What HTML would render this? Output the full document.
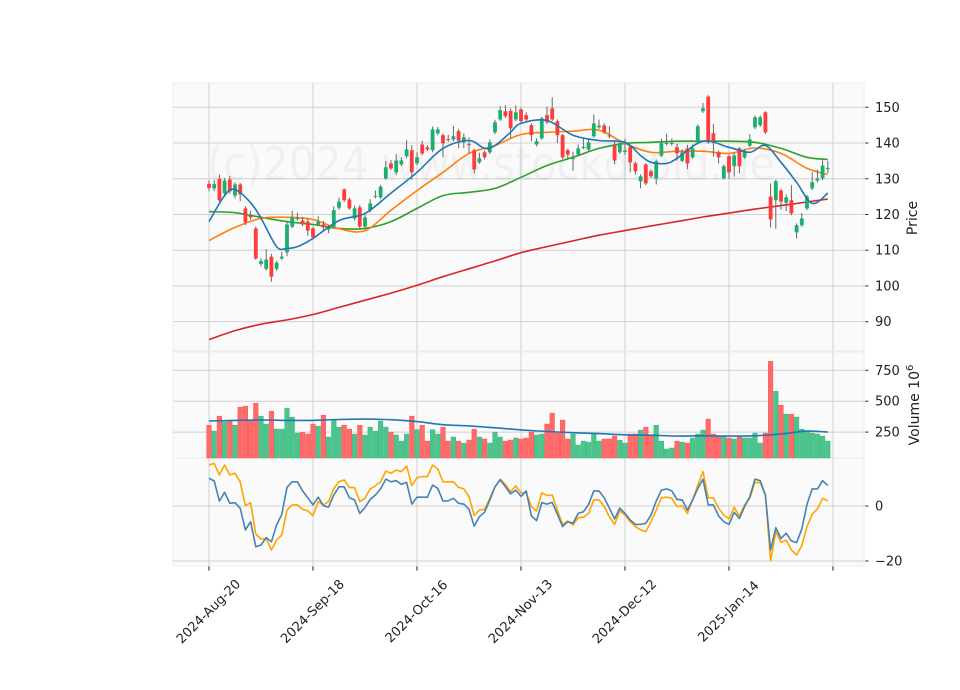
<!DOCTYPE html>
<html>
<head>
<meta charset="utf-8">
<style>
  html,body{margin:0;padding:0;background:#ffffff;}
  svg{display:block;font-family:"DejaVu Sans","Liberation Sans",sans-serif;}
</style>
</head>
<body>
<svg id="chart" width="960" height="690" viewBox="0 0 960 690" xmlns="http://www.w3.org/2000/svg">
  <g id="panels"></g>
  <text x="207" y="180" font-size="46" fill="#000" fill-opacity="0.04" textLength="568" lengthAdjust="spacingAndGlyphs">(c)2024 www.stockdroid.de</text>
  <g id="marks"></g>
  <g id="axes"></g>
  <text x="0" y="0" font-size="14" fill="#222" text-anchor="middle" transform="translate(917,218) rotate(-90)">Price</text>
  <text x="0" y="0" font-size="14" fill="#222" text-anchor="middle" transform="translate(919,405) rotate(-90)">Volume  10<tspan font-size="10" dy="-6">6</tspan></text>
</svg>
<script>
const xTickLabels = ["2024-Aug-20","2024-Sep-18","2024-Oct-16","2024-Nov-13","2024-Dec-12","2025-Jan-14",""];
const xTickIndex = [0,20,40,60,80,100,120];
const priceTicks = [90,100,110,120,130,140,150];
const volumeTicks = [250,500,750];
const oscTicks = [0,-20];

const openP = [128.6,127.3,130,125.9,129.8,125.3,128.4,121.7,119.6,116.1,106.2,104.8,108.2,104.8,107.7,109.4,116.6,118.7,118.3,118,116.1,117.2,117.2,115.8,116.6,121.9,127,124.2,118.9,122,116.6,121.2,125,124.8,130.1,134.3,131.8,134,136.3,138,134.3,139.6,138.8,138,142.7,142.2,141.1,141,143.3,140.2,139.7,138,134.6,137.4,137.4,143,146.6,148.9,149,146.6,149.4,147.8,145,139.6,141.3,147.8,149.7,146.1,142.2,138,135.6,136.8,138.7,138.2,141.9,144.4,144.9,142.1,139.3,137.4,137.5,139,134.3,129.3,134,132.1,130.1,136.5,139.8,139.8,138.8,135,138.5,136,140.2,148.9,153,142.7,137.4,130.1,136.3,133.5,138.5,136,139.3,144.4,145,148.6,125,124,126.7,123.3,124,115,117,121.7,127.3,129.5,130.1,132.8];
const closeP = [127.4,128.5,124,129.5,126.5,128.4,125.6,117.8,119.2,107.7,107,107.4,102.6,106.5,108.2,117.2,119.2,119,117.2,115.5,113.6,118,116.4,116.2,121.2,123.6,124,121.7,121.7,116.6,119.2,123.1,125.2,127.8,133.2,132.9,135.1,135.1,138.2,131.8,136,137.1,138.2,143.8,143.8,139.9,140.9,141.9,140.7,141.6,139.5,132.6,135.7,136,140.2,145.8,149.2,147.5,144.1,148.6,146.1,146.6,142.2,140.5,146.9,145.8,146.6,142.2,136,136.8,135.8,138.5,138.9,140.2,145.5,144.9,143,141.9,135.1,139.9,137.9,134.6,132.1,130.7,128.7,130.7,134.9,139.9,140,140,137.1,137.4,134.3,138.5,144.7,149.7,140.2,140.7,136,133.5,131.8,136.5,133.5,137.4,141,147.2,147.2,143,118.6,129.3,123.6,124.8,120.3,117,118.9,125,129,130.1,133.7,133];
const highP = [129.5,129.6,131.2,130.2,130.8,129,128.8,122.3,121,116.6,107.8,110.3,109,107,109.5,118,121,120.5,119.3,119,116.6,119.5,118.2,117,122.3,124.7,127.3,124.7,122.5,122.7,120,124.3,126.7,128.3,135,135.2,136.9,136,140.8,139.4,137.4,140.6,139.4,144.6,144.5,142.7,142.3,144.8,144,142.7,141.6,138.5,137.3,137.9,141,146.5,150.3,150.6,149.7,150.5,149.9,148.6,145.6,141.3,147.4,150.2,152.8,146.6,142.6,138.4,137.6,139.6,141.2,141,148,146.6,145.5,144.7,140.9,140.4,141.2,139.4,134.8,131.2,134.4,132.6,135.4,141.2,142.6,141.3,139.8,138.2,139.5,139.6,145.2,151.2,153.4,145.3,137.9,134,136.8,137.3,138.9,138.2,142.5,147.7,147.7,148.9,128.7,129.8,127.2,125.6,128.2,117.5,120.4,125.5,131.8,132.6,135.2,135];
const lowP = [126.5,126.5,123.5,125.3,125.8,124.5,123.8,117,118.5,107.3,105.5,104.3,101.2,104.2,107.2,108.3,116.2,118.3,116.7,114,113,116.8,115.7,114.8,116,121.3,123.5,121.3,118.3,115.8,115.8,120.6,124.5,124.3,129.7,132.5,131,133.5,135.7,129.7,133.8,136.6,137.7,137.4,142.2,136,140.3,140.5,138.5,138.6,137,131.5,134.2,135.4,136.9,142.5,146.2,147,141.3,146.1,145.5,146.2,140.5,139,140.9,145.3,146.2,140,135.5,135.5,132.2,136.3,138.3,137.8,141.5,144,142.5,141.3,134,137,136.7,131.8,131.2,127.3,128.2,130.2,128.4,136.1,139.3,139.3,135.1,134.6,132.7,135.6,139.8,148.4,139.8,136.2,134.3,129.8,130,130.6,131.5,135.6,138.8,143.9,144.5,142.5,116.4,116,121.3,121,119.8,113.3,116.5,121.2,126.8,129,129.6,131.6];
const volume = [306,258,379,331,339,306,452,460,347,484,379,315,419,274,274,444,371,242,248,234,315,298,387,210,355,290,306,274,234,306,226,290,258,339,290,250,226,177,234,379,270,306,177,270,234,290,177,210,177,161,185,274,210,194,161,250,210,177,185,202,194,202,250,226,234,315,403,242,347,194,234,145,177,169,242,177,194,194,218,185,161,234,234,266,290,226,306,177,113,121,177,169,161,202,234,266,355,234,218,210,202,194,210,202,202,242,161,242,822,580,468,395,395,371,274,258,242,234,218,177];

const maIdx = [0,5,10,15,20,25,30,35,40,45,50,55,60,65,70,75,80,85,90,95,100,105,110,115,119];
const maMid = [112.7,116.4,118.9,119.2,118.6,116,115.5,121.2,126.7,131.8,137.1,139.3,142.4,143,143.3,143.6,139.9,137.4,137.7,137.7,137.1,138.6,137.1,132.9,131.2];
const maSlow = [120.8,120.5,119.2,118,117.2,116.1,116.1,118,121.7,125.3,126.2,127.3,130.4,133.7,136,138.5,139.9,140.2,140.5,140.5,140.5,140.2,138.5,136,135.4];
const maLong = [85,87.5,89.3,90.5,92,94,96,98,100.2,102.6,104.8,107,109.3,111,112.6,114.2,115.5,116.8,118,119.3,120.4,121.5,122.5,123.5,124.3];
const volMa = [340,345,348,345,345,352,355,350,335,310,300,285,268,255,245,238,228,225,218,220,218,220,235,258,250];

const fastIdx = [0,3,5,8,10,13,15,17,20,25,30,35,40,45,50,53,55,58,60,65,70,75,80,83,85,88,90,95,100,104,107,110,113,116,119];
const maFast = [118,125.3,127,123.3,119,111,110.5,111,113.3,118.3,120.3,126,131.8,138.5,140.7,138.5,139.3,143,145.5,146.3,142.2,140.7,140.2,136.5,134.6,134.3,135.7,140.5,138.8,137.4,139.3,134.6,129,123.1,126];

const oscBlue = [10.1,9.1,1.8,5,1,1.2,-0.8,-8.7,-5.7,-14.8,-14.2,-11.5,-13,-6.9,-3,6.8,8.8,8.8,5.5,3,0.4,3.2,0.1,-0.4,4,7,7,3,2.2,-2.7,-0.6,2.4,4,6.2,9.8,8.8,9.2,7.9,8.6,0.7,3.2,3.2,3.2,7.6,6.4,1.8,1.9,2.8,1,0.7,-1.2,-7.3,-3.9,-2.3,2.2,7,9.5,7,4.4,5.8,3.5,5.5,-3.6,-5.3,1.2,0.7,1.3,-3,-7.5,-5.7,-6.3,-2.7,-2.1,0.6,5.5,5.5,3,-0.8,-4.7,-0.8,-2.7,-5.1,-6.7,-6.7,-6.3,-3.3,1.8,5.8,6.2,5.5,2.4,2.2,-1.5,2.2,6.4,9.7,0.4,0.4,-3.6,-5.7,-6.7,-2.3,-4.5,-0.2,3.4,9.8,9.2,4,-16,-7.9,-11.8,-9.9,-12.7,-13.3,-8.4,0.6,6.2,6.2,9.2,7.4];
const oscOrange = [14.9,15.5,11.3,14.9,11.3,11.9,8.8,0.1,1.2,-10.2,-12,-11.8,-16,-12.4,-10.5,-1.5,0.4,0.4,-1.2,-1.8,-3.5,1.6,0.4,1.6,6.4,8.8,9.5,6.7,6.7,1.6,2.8,6.2,7.3,8.8,12.7,11.9,13.1,12.5,14.5,7.4,10.3,10.7,10.7,14.9,13.5,8.8,8.8,8.8,6.8,6.2,3.4,-3.5,-1.5,-1.2,2.8,7,9.8,7.9,5.2,7.3,4.8,4.8,-0.2,-1.8,4.8,3.8,4,-1.5,-6.7,-5.5,-6.9,-4.2,-4.1,-2.7,2.2,2.2,-0.2,-3.9,-6.7,-1.7,-3.3,-5.7,-7.5,-8.7,-9.3,-5.7,-1.5,3,3.2,2.8,-0.2,0.1,-2.7,2.2,7.6,12.5,3,3,-0.8,-3.3,-4.7,-0.5,-3.6,0.4,2.8,8.6,8.5,4,-20,-9.3,-13.2,-12.4,-16,-17.8,-14.4,-7.5,-3,-1.1,2.8,1.9];

// ---- layout & scales ----
const NS = "http://www.w3.org/2000/svg";
const L = 173, R = 864;
const P1 = {top:83, bottom:351};
const P2 = {top:352, bottom:458};
const P3 = {top:458, bottom:566};
function xs(i){ return 209 + i*5.2; }
function yPrice(p){ return 107.3 + (150 - p)*3.573; }
function yVol(v){ return 463 - v*0.1236; }
function yOsc(o){ return 506 - o*2.75; }

function mk(tag, attrs, parent){
  const el = document.createElementNS(NS, tag);
  for (const k in attrs) el.setAttribute(k, attrs[k]);
  parent.appendChild(el);
  return el;
}
const gP = document.getElementById("panels");
const gM = document.getElementById("marks");
const gA = document.getElementById("axes");

[[P1,"price-panel"],[P2,"volume-panel"],[P3,"oscillator-panel"]].forEach(([p,name])=>{
  const r = mk("rect",{x:L,y:p.top,width:R-L,height:p.bottom-p.top,fill:"#fafafa",stroke:"#ececec","stroke-width":1},gP);
  
  
});
xTickIndex.forEach((ti)=>{
  const x = xs(ti);
  [P1,P2,P3].forEach(p=>{
    const g = mk("line",{x1:x,x2:x,y1:p.top,y2:p.bottom,stroke:"#d0d0d0","stroke-width":1},gP);
    
    
  });
});
function hgrid(y, label, name){
  const g = mk("line",{x1:L,x2:R,y1:y,y2:y,stroke:"#d0d0d0","stroke-width":1},gP);
  
  
  const t = mk("line",{x1:R+1,x2:R+4.5,y1:y,y2:y,stroke:"#333","stroke-width":1},gA);
  
  
  const tx = mk("text",{x:R+11,y:y+4.5,"font-size":13,fill:"#222"},gA);
  tx.textContent = label;
  
  
}
priceTicks.forEach(p=>hgrid(yPrice(p), String(p), 'price'));
volumeTicks.forEach(v=>hgrid(yVol(v), String(v), 'volume'));
oscTicks.forEach(o=>hgrid(yOsc(o), o<0 ? "\u2212"+Math.abs(o) : String(o), 'oscillator'));

xTickIndex.forEach((ti,k)=>{
  const x = xs(ti);
  const t = mk("line",{x1:x,x2:x,y1:566.5,y2:570.5,stroke:"#111","stroke-width":1},gA);
  
  
  if (xTickLabels[k]) {
    const tx = mk("text",{x:x,y:612,"font-size":13,fill:"#222","text-anchor":"middle","dominant-baseline":"central",transform:`rotate(-45 ${x} 612)`},gA);
    tx.textContent = xTickLabels[k];
    
    
  }
});

volume.forEach((v,i)=>{
  const up = closeP[i] >= openP[i];
  const top = Math.max(yVol(v), P2.top);
  const b = mk("rect",{x:xs(i)-2.3,y:top,width:4.6,height:P2.bottom-top,fill:up?"#4cc48c":"#ff6b6b",stroke:up?"#3bb57c":"#f55","stroke-width":0.5},gM);
  
  
});

function line(idx, vals, yf, color, w, name){
  const pts = vals.map((v,k)=>xs(idx ? idx[k] : k).toFixed(1)+","+yf(v).toFixed(1)).join(" ");
  const pl = mk("polyline",{points:pts,fill:"none",stroke:color,"stroke-width":w,"stroke-linejoin":"round"},gM);
  
  
}
// smooth curve (Catmull-Rom) through sampled MA points
function smooth(idx, vals, yf, color, w, name){
  const P = vals.map((v,k)=>[xs(idx[k]), yf(v)]);
  let d = "M" + P[0][0].toFixed(1) + "," + P[0][1].toFixed(1);
  for (let k=0;k<P.length-1;k++){
    const p0 = P[k-1] || P[k], p1 = P[k], p2 = P[k+1], p3 = P[k+2] || P[k+1];
    const c1 = [p1[0]+(p2[0]-p0[0])/6, p1[1]+(p2[1]-p0[1])/6];
    const c2 = [p2[0]-(p3[0]-p1[0])/6, p2[1]-(p3[1]-p1[1])/6];
    d += ` C${c1[0].toFixed(1)},${c1[1].toFixed(1)} ${c2[0].toFixed(1)},${c2[1].toFixed(1)} ${p2[0].toFixed(1)},${p2[1].toFixed(1)}`;
  }
  const pa = mk("path",{d:d,fill:"none",stroke:color,"stroke-width":w,"stroke-linejoin":"round"},gM);
  
  
}
smooth(maIdx, volMa, yVol, "#1f77b4", 1.6, "volume-moving-average");

smooth(maIdx, maLong, yPrice, "#d62728", 1.6, "long-moving-average");
smooth(maIdx, maSlow, yPrice, "#2ca02c", 1.6, "slow-moving-average");
smooth(maIdx, maMid, yPrice, "#ff7f0e", 1.6, "mid-moving-average");

openP.forEach((o,i)=>{
  const c = closeP[i];
  const up = c >= o;
  const col = up ? "#1aaf6c" : "#ff3b3b";
  const x = xs(i);
  const w = mk("line",{x1:x,x2:x,y1:yPrice(highP[i]),y2:yPrice(lowP[i]),stroke:"#666","stroke-width":1},gM);
  
  
  const y1 = yPrice(Math.max(o,c)), y2 = yPrice(Math.min(o,c));
  const b = mk("rect",{x:x-1.9,y:y1,width:3.8,height:Math.max(y2-y1,1),fill:col},gM);
  
  
});
smooth(fastIdx, maFast, yPrice, "#1f77b4", 1.6, "fast-moving-average");

line(null, oscOrange, yOsc, "#ffa500", 1.6, "oscillator-signal-line");
line(null, oscBlue, yOsc, "#4682b4", 1.6, "oscillator-main-line");
</script>
</body>
</html>
